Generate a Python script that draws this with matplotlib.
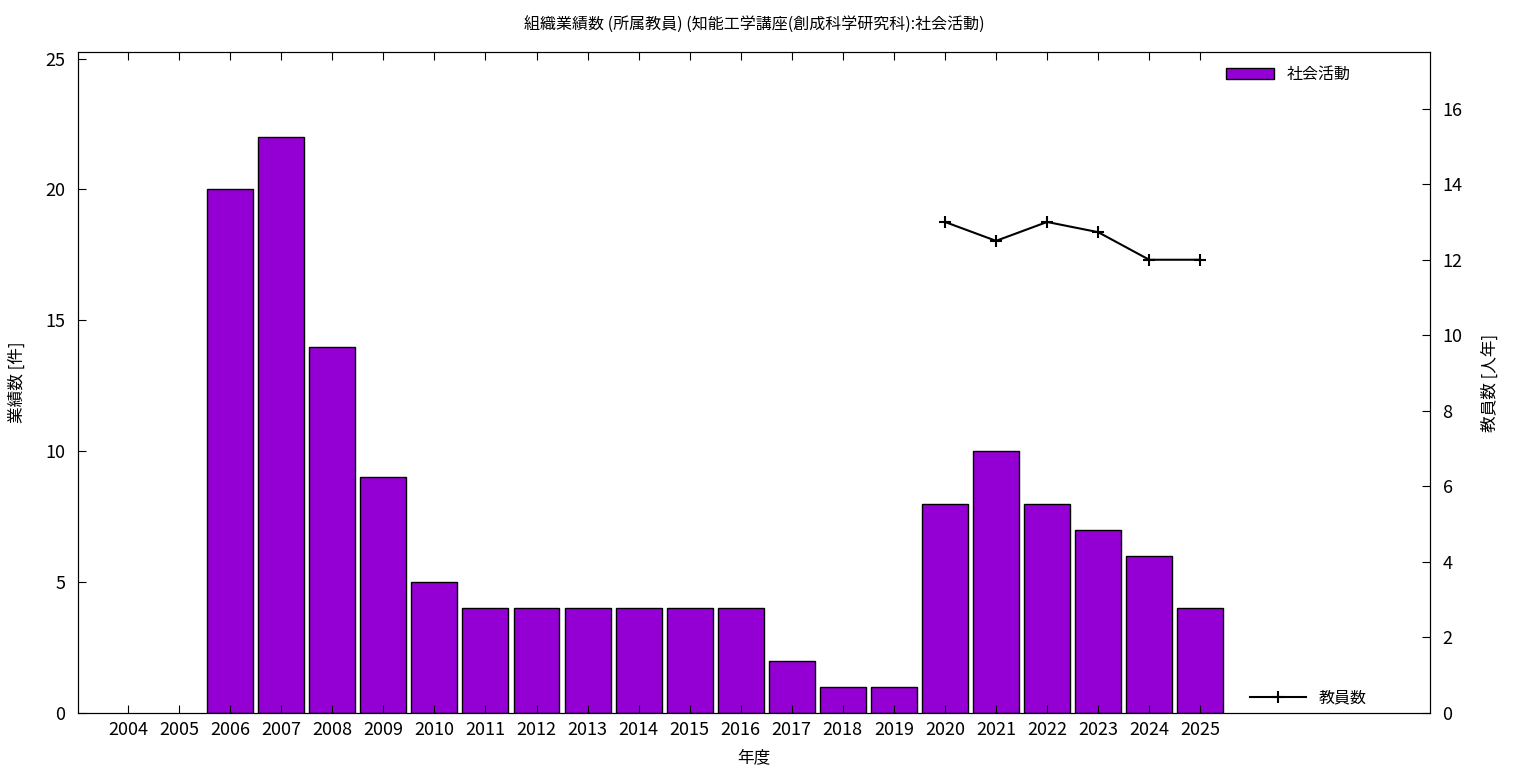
import matplotlib
matplotlib.use('Agg')
import matplotlib.pyplot as plt
import numpy as np

plt.rcParams['font.family'] = ['Noto Sans CJK JP', 'DejaVu Sans']

years = [str(y) for y in range(2004, 2026)]
activities = [0, 0, 20, 22, 14, 9, 5, 4, 4, 4, 4, 4, 4, 2, 1, 1, 8, 10, 8, 7, 6, 4]
staff_years = ['2020', '2021', '2022', '2023', '2024', '2025']
staff = [13.0, 12.5, 13.0, 12.73, 12.0, 12.0]

x = np.arange(len(years))
staff_x = [years.index(y) for y in staff_years]
# gnuplot draws nothing for empty years
heights = np.where(np.array(activities) == 0, np.nan, activities)

fig = plt.figure(figsize=(15.36, 7.68), dpi=100)
ax = fig.add_axes([0.0508, 0.0716, 0.8802, 0.8607])
ax2 = ax.twinx()

bars = ax.bar(x, heights, width=0.9, color='#9400d3', edgecolor='black', linewidth=1, label='社会活動')
line, = ax2.plot(staff_x, staff, color='black', marker='+', markersize=9, markeredgewidth=1.5,
                 linewidth=1.5, label='教員数')

ax.set_xlim(-0.98, 25.5)
ax.set_ylim(0, 25.25)
ax2.set_ylim(0, 17.5)
ax.set_xticks(x)
ax.set_xticklabels(years)
ax.set_yticks([0, 5, 10, 15, 20, 25])
ax2.set_yticks(range(0, 17, 2))

ax.tick_params(axis='x', direction='in', top=True, length=6, labelsize=13, pad=6)
ax.tick_params(axis='y', direction='in', length=6, labelsize=13, pad=9)
ax2.tick_params(axis='y', direction='in', length=6, labelsize=13, pad=9)

ax.set_xlabel('年度', fontsize=12, labelpad=7)
ax.set_ylabel('業績数 [件]', fontsize=12, labelpad=14)
ax2.set_ylabel('教員数 [人年]', fontsize=12, rotation=90, labelpad=14)
ax.set_title('組織業績数 (所属教員) (知能工学講座(創成科学研究科):社会活動)', fontsize=11.5, pad=16)

ax.legend(handles=[bars], loc='upper right', bbox_to_anchor=(0.952, 1.0), frameon=False,
          fontsize=11.5, handlelength=3.0, handleheight=0.7)
ax2.legend(handles=[line], loc='lower right', bbox_to_anchor=(0.964, -0.012), frameon=False,
           fontsize=11.5, handlelength=3.5)

fig.savefig('out.png', dpi=100)
